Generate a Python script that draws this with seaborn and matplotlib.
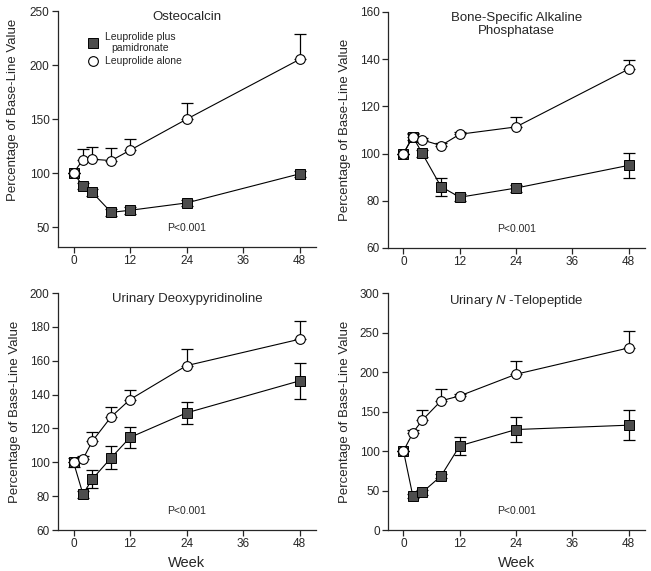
"""Four-panel bone turnover markers, leuprolide with/without pamidronate."""
import matplotlib
matplotlib.use("Agg")
import matplotlib.pyplot as plt
import numpy as np
import pandas as pd
import seaborn as sns

weeks = [0, 2, 4, 8, 12, 24, 48]
groups = ["Leuprolide plus\npamidronate", "Leuprolide alone"]

osteo_combo = [100, 88, 82, 63.6, 65.5, 72.3, 99.2]
osteo_combo_err = [0, 3, 3, 3, 3, 3, 3]
osteo_alone = [100, 112.4, 112.8, 111.5, 121.1, 149.8, 205.2]
osteo_alone_err = [0, 9.9, 11.4, 11.8, 10.5, 15.5, 23.2]

bsap_combo = [100, 107.2, 100.1, 86, 81.5, 85.4, 95]
bsap_combo_err = [0, 1.5, 1.5, 3.8, 1.5, 1.5, 5.2]
bsap_alone = [100, 107.2, 105.8, 103.4, 108.2, 111.3, 135.8]
bsap_alone_err = [0, 1, 1, 1, 1, 4.2, 3.8]

dpd_combo = [100, 81.2, 90.1, 102.7, 114.7, 129.2, 148.1]
dpd_combo_err = [2.5, 2, 5.4, 6.8, 6.0, 6.4, 10.5]
dpd_alone = [100, 101.9, 112.5, 126.9, 137.1, 157.1, 172.7]
dpd_alone_err = [0, 2, 5.5, 5.9, 5.9, 10.1, 10.8]

ntx_combo = [100, 43, 47.6, 68.3, 106.6, 127.2, 132.7]
ntx_combo_err = [0, 3, 3, 3, 11.5, 15.8, 18.8]
ntx_alone = [100, 123, 139, 163.5, 169.8, 197.2, 230.5]
ntx_alone_err = [0, 3, 12.7, 15.5, 3, 16.8, 21.5]

panels = [
    ("Osteocalcin", osteo_combo, osteo_combo_err, osteo_alone, osteo_alone_err,
     (31.5, 250), range(50, 251, 50)),
    ("Bone-Specific Alkaline\nPhosphatase", bsap_combo, bsap_combo_err, bsap_alone,
     bsap_alone_err, (60, 160), range(60, 161, 20)),
    ("Urinary Deoxypyridinoline", dpd_combo, dpd_combo_err, dpd_alone, dpd_alone_err,
     (60, 200), range(60, 201, 20)),
    ("Urinary $\\it{N}$ -Telopeptide", ntx_combo, ntx_combo_err, ntx_alone, ntx_alone_err,
     (0, 300), range(0, 301, 50)),
]

sns.set_style("ticks")
plt.rcParams["font.family"] = ["Liberation Sans", "DejaVu Sans"]
plt.rcParams["mathtext.fontset"] = "custom"
plt.rcParams["mathtext.it"] = "Liberation Sans:italic"

fig = plt.figure(figsize=(6.51, 5.71), dpi=100)
positions = [
    (0.0891, 0.5674, 0.3963, 0.4133),
    (0.5960, 0.5657, 0.3948, 0.4133),
    (0.0891, 0.0718, 0.3963, 0.4150),
    (0.5960, 0.0718, 0.3948, 0.4150),
]

for i, (pos, (title, combo, combo_err, alone, alone_err, ylim, yticks)) in enumerate(
        zip(positions, panels)):
    ax = fig.add_axes(pos)
    df = pd.DataFrame({
        "week": weeks * 2,
        "value": combo + alone,
        "group": [groups[0]] * len(weeks) + [groups[1]] * len(weeks),
    })

    # error bars: both directions for combo, upper only for alone
    ax.errorbar(weeks, combo, yerr=combo_err, fmt="none", ecolor="black",
                elinewidth=0.9, capsize=4, capthick=0.9, zorder=1)
    ax.errorbar(weeks, alone, yerr=[np.zeros(len(weeks)), alone_err], fmt="none",
                ecolor="black", elinewidth=0.9, capsize=4, capthick=0.9, zorder=1)

    sns.lineplot(data=df[df.group == groups[0]], x="week", y="value", ax=ax,
                 color="black", lw=0.8, marker="s", markersize=7,
                 markerfacecolor="#4d4d4d", markeredgecolor="black",
                 markeredgewidth=0.7, label=groups[0], zorder=2)
    sns.lineplot(data=df[df.group == groups[1]], x="week", y="value", ax=ax,
                 color="black", lw=0.8, marker="o", markersize=7,
                 markerfacecolor="white", markeredgecolor="black",
                 markeredgewidth=0.8, label=groups[1], zorder=3)

    ax.set_xlim(-3.3, 51.5)
    ax.set_ylim(*ylim)
    ax.set_xticks([0, 12, 24, 36, 48])
    ax.set_yticks(list(yticks))
    ax.tick_params(labelsize=8.5, length=4, width=0.9, direction="out", pad=2)
    for s in ("left", "bottom"):
        ax.spines[s].set_linewidth(0.9)
    sns.despine(ax=ax)

    ax.set_ylabel("Percentage of Base-Line Value", fontsize=9.5, labelpad=6)
    ax.set_xlabel("Week" if i >= 2 else "", fontsize=10.5, labelpad=4)
    ax.text(0.5, 1.0, title, transform=ax.transAxes, ha="center", va="top",
            fontsize=9.5, linespacing=1.1)
    ax.text(0.5, 0.08, "P<0.001", transform=ax.transAxes, ha="center",
            va="center", fontsize=7.5)

    if i == 0:
        ax.yaxis.set_label_coords(-0.15, 0.58)
        leg = ax.legend(loc="upper left", bbox_to_anchor=(0.1, 0.93), frameon=False,
                        fontsize=7.5, handlelength=1.0, handletextpad=0.6,
                        labelspacing=0.3, borderaxespad=0)
        for t in leg.get_texts():
            t.set_multialignment("center")
        for h in leg.get_lines():
            h.set_linestyle("none")
    else:
        ax.get_legend().remove()

fig.savefig("out.png", dpi=100)
